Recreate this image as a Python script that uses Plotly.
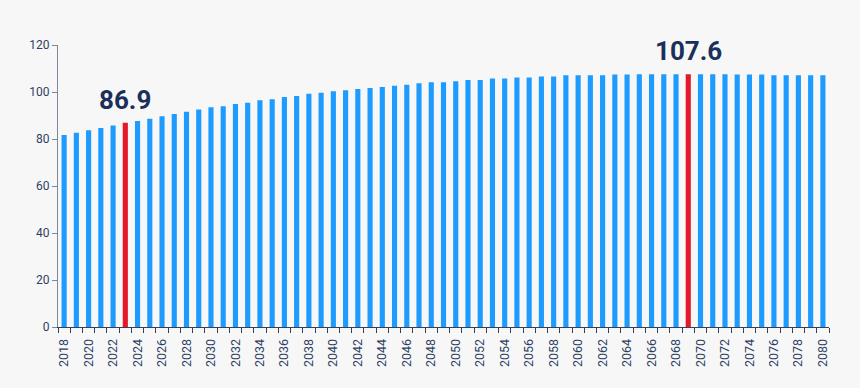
import plotly.graph_objects as go

years = list(range(2018, 2081))
values = [
    81.7, 82.7, 83.7, 84.7, 85.7, 86.9, 87.7, 88.6, 89.7, 90.6,
    91.6, 92.6, 93.5, 93.9, 94.9, 95.4, 96.5, 96.9, 97.9, 98.3,
    99.3, 99.7, 100.3, 100.7, 101.3, 101.7, 102.1, 102.7, 103.1, 103.7,
    104.1, 104.1, 104.6, 105.1, 105.1, 105.7, 105.7, 106.2, 106.2, 106.6,
    106.6, 107.1, 107.1, 107.1, 107.1, 107.5, 107.5, 107.6, 107.6, 107.6,
    107.6, 107.6, 107.6, 107.6, 107.6, 107.5, 107.5, 107.5, 107.1, 107.1,
    107.1, 107.1, 107.1,
]
highlight_years = [2023, 2069]
highlight_labels = ["86.9", "107.6"]
y_ticks = [0, 20, 40, 60, 80, 100, 120]
x_tick_years = list(range(2018, 2081, 2))

BLUE = "#1e9bff"
RED = "#e3192b"
NAVY = "#1b2f5b"
TICK = "#2e3f63"
BG = "#f7f7f7"

colors = [RED if y in highlight_years else BLUE for y in years]

fig = go.Figure(go.Bar(
    x=years, y=values, marker=dict(color=colors, line=dict(width=0)),
    width=0.42, hoverinfo="x+y",
))

for yr, lab in zip(highlight_years, highlight_labels):
    fig.add_annotation(
        x=yr, y=values[years.index(yr)], text=lab, showarrow=False,
        yanchor="bottom", yshift=6,
        font=dict(family="Roboto", size=26, color=NAVY, weight="bold"),
    )

fig.update_layout(
    width=860, height=388,
    margin=dict(l=58, r=31, t=45, b=61),
    paper_bgcolor=BG, plot_bgcolor=BG,
    showlegend=False,
    font=dict(family="Roboto", size=12, color=TICK),
    bargap=0.5,
)
fig.update_xaxes(
    range=[2017.5, 2080.5],
    tickmode="array", tickvals=x_tick_years,
    ticktext=[str(y) for y in x_tick_years],
    tickangle=-90, ticks="", showgrid=False, zeroline=False,
    showline=True, linecolor="#34405a", linewidth=1,
    ticklabelstandoff=6,
    tickfont=dict(family="Roboto", size=12.5, color=TICK),
    minor=dict(tickmode="linear", tick0=2017.5, dtick=1, ticks="outside",
               ticklen=5, tickcolor="#34405a", tickwidth=1, showgrid=False),
)
fig.update_yaxes(
    range=[0, 120], tickmode="array", tickvals=y_ticks,
    ticks="outside", ticklen=5, tickcolor="#7d8799",
    showgrid=False, zeroline=False,
    showline=True, linecolor="#7d8799", linewidth=1,
    tickfont=dict(family="Roboto", size=12, color=TICK),
)

fig.write_html(
    "out.html",
    config={"displayModeBar": False},
    post_script="document.body.style.margin='0';document.body.style.background='#f7f7f7';",
)
